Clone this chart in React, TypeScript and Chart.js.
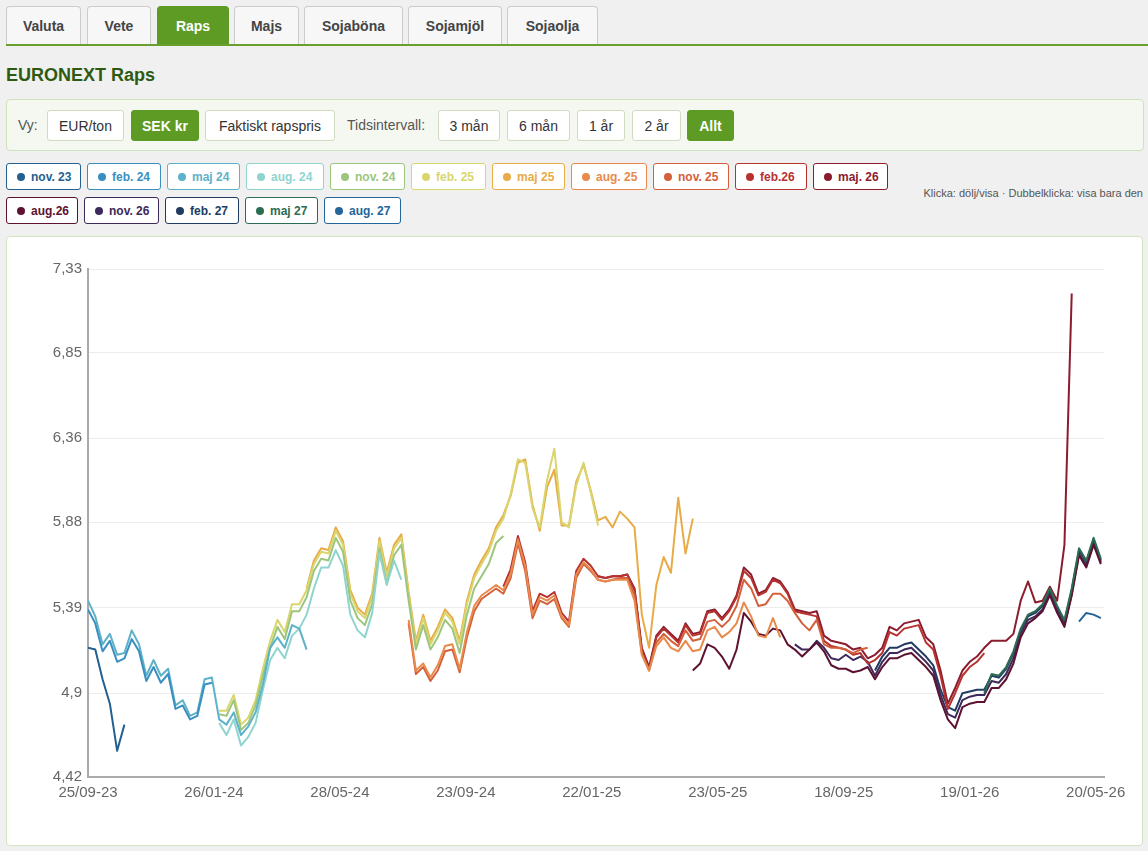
import React, { useEffect, useRef } from "react";
import { Chart, registerables } from "chart.js";
Chart.register(...registerables);

const FONT = '"Liberation Sans", Arial, Helvetica, sans-serif';

// x axis: days since 25/09-23 (ticks evenly spaced like the source's trading-day axis)
const xTickLabels = ["25/09-23", "26/01-24", "28/05-24", "23/09-24", "22/01-25", "23/05-25", "18/09-25", "19/01-26", "20/05-26"];
const xTickDays = [0, 121, 242, 363, 484, 605, 726, 847, 968];
const yTicks = [4.42, 4.9, 5.39, 5.88, 6.36, 6.85, 7.33];
const stepDays = 7;

const contractLabels = ["nov. 23", "feb. 24", "maj 24", "aug. 24", "nov. 24", "feb. 25", "maj 25", "aug. 25", "nov. 25", "feb.26", "maj. 26", "aug.26", "nov. 26", "feb. 27", "maj 27", "aug. 27"];
const contractColors = ["#23608f", "#3a8fc0", "#5db2c9", "#8fd4cf", "#9cc57e", "#d9d66e", "#e8ab47", "#e88a4b", "#d4603b", "#b7322f", "#8b1c2e", "#5e1231", "#3d2a5a", "#213c62", "#2c6c50", "#23669c"];
// first week index of each contract's data
const startWeeks = [0, 0, 0, 18, 18, 18, 30, 44, 44, 57, 70, 83, 97, 108, 123, 136];

const nov23 = [5.16, 5.15, 4.98, 4.84, 4.57, 4.72];
const feb24 = [5.38, 5.30, 5.14, 5.20, 5.08, 5.10, 5.21, 5.14, 4.97, 5.05, 4.96, 5.01, 4.81, 4.83, 4.75, 4.77, 4.95, 4.96];
const maj24 = [5.43, 5.34, 5.18, 5.24, 5.12, 5.13, 5.26, 5.18, 5.00, 5.09, 5.00, 5.04, 4.83, 4.86, 4.77, 4.79, 4.98, 4.99, 4.75, 4.72, 4.79, 4.66, 4.71, 4.79, 4.95, 5.16, 5.22, 5.16, 5.29, 5.27, 5.15];
const aug24 = [4.73, 4.66, 4.75, 4.60, 4.65, 4.73, 4.92, 5.09, 5.16, 5.10, 5.23, 5.27, 5.35, 5.50, 5.62, 5.62, 5.72, 5.63, 5.35, 5.26, 5.22, 5.36, 5.70, 5.52, 5.66, 5.55];
const nov24 = [4.78, 4.77, 4.86, 4.69, 4.73, 4.83, 5.00, 5.16, 5.28, 5.21, 5.37, 5.37, 5.45, 5.60, 5.67, 5.66, 5.79, 5.71, 5.43, 5.33, 5.29, 5.41, 5.73, 5.53, 5.69, 5.75, 5.43, 5.15, 5.29, 5.15, 5.22, 5.32, 5.27, 5.13, 5.35, 5.50, 5.57, 5.64, 5.76, 5.80];
const feb25 = [4.80, 4.80, 4.89, 4.72, 4.76, 4.86, 5.04, 5.20, 5.32, 5.25, 5.41, 5.41, 5.49, 5.64, 5.71, 5.70, 5.83, 5.75, 5.47, 5.37, 5.33, 5.45, 5.77, 5.57, 5.73, 5.79, 5.46, 5.18, 5.33, 5.18, 5.26, 5.36, 5.31, 5.18, 5.41, 5.56, 5.64, 5.71, 5.83, 5.90, 6.04, 6.24, 6.22, 5.96, 5.85, 6.12, 6.30, 5.88, 5.85, 6.09, 6.22, 6.05, 5.86];
const maj25 = [5.50, 5.66, 5.73, 5.72, 5.85, 5.77, 5.49, 5.39, 5.35, 5.47, 5.79, 5.59, 5.75, 5.81, 5.48, 5.20, 5.35, 5.20, 5.28, 5.38, 5.33, 5.20, 5.43, 5.58, 5.66, 5.73, 5.85, 5.92, 6.03, 6.22, 6.24, 5.98, 5.83, 6.08, 6.18, 5.86, 5.86, 6.11, 6.21, 6.06, 5.89, 5.91, 5.85, 5.94, 5.90, 5.85, 5.35, 5.16, 5.52, 5.68, 5.59, 6.02, 5.70, 5.90];
const aug25 = [5.32, 5.03, 5.07, 4.99, 5.06, 5.17, 5.18, 5.04, 5.25, 5.40, 5.46, 5.49, 5.52, 5.49, 5.58, 5.78, 5.63, 5.35, 5.45, 5.43, 5.46, 5.34, 5.29, 5.58, 5.65, 5.61, 5.55, 5.54, 5.55, 5.55, 5.55, 5.43, 5.12, 5.03, 5.17, 5.22, 5.16, 5.14, 5.20, 5.14, 5.15, 5.26, 5.28, 5.22, 5.25, 5.30, 5.42, 5.34, 5.23, 5.22, 5.33, 5.22];
const nov25 = [5.30, 5.01, 5.05, 4.97, 5.03, 5.14, 5.15, 5.02, 5.22, 5.37, 5.44, 5.47, 5.50, 5.47, 5.56, 5.76, 5.60, 5.33, 5.43, 5.41, 5.44, 5.33, 5.28, 5.56, 5.64, 5.60, 5.55, 5.54, 5.55, 5.56, 5.56, 5.46, 5.13, 5.03, 5.19, 5.24, 5.20, 5.17, 5.26, 5.20, 5.21, 5.31, 5.32, 5.28, 5.32, 5.40, 5.55, 5.50, 5.40, 5.41, 5.47, 5.47, 5.43, 5.36, 5.30, 5.26, 5.32, 5.18, 5.16, 5.16, 5.15, 5.13, 5.15, 5.16];
const feb26 = [5.51, 5.61, 5.80, 5.65, 5.37, 5.47, 5.45, 5.48, 5.36, 5.31, 5.60, 5.67, 5.63, 5.57, 5.56, 5.57, 5.57, 5.58, 5.49, 5.15, 5.04, 5.22, 5.27, 5.23, 5.19, 5.29, 5.23, 5.24, 5.36, 5.37, 5.32, 5.37, 5.45, 5.60, 5.56, 5.46, 5.48, 5.55, 5.53, 5.47, 5.37, 5.36, 5.35, 5.34, 5.20, 5.17, 5.16, 5.15, 5.12, 5.13, 5.07, 5.09, 5.13, 5.25, 5.23, 5.27, 5.28, 5.29, 5.19, 5.15, 5.00, 4.81, 4.90, 5.00, 5.05, 5.08, 5.13];
const maj26 = [5.57, 5.56, 5.57, 5.57, 5.58, 5.50, 5.16, 5.05, 5.23, 5.28, 5.24, 5.20, 5.30, 5.24, 5.25, 5.37, 5.38, 5.33, 5.38, 5.46, 5.62, 5.58, 5.47, 5.49, 5.56, 5.54, 5.48, 5.38, 5.37, 5.36, 5.37, 5.23, 5.20, 5.19, 5.18, 5.15, 5.16, 5.10, 5.12, 5.16, 5.28, 5.26, 5.30, 5.31, 5.32, 5.22, 5.18, 5.03, 4.84, 4.93, 5.03, 5.08, 5.11, 5.16, 5.20, 5.20, 5.20, 5.24, 5.43, 5.54, 5.42, 5.43, 5.51, 5.43, 5.75, 7.19];
const aug26 = [5.03, 5.07, 5.18, 5.16, 5.11, 5.04, 5.15, 5.36, 5.31, 5.24, 5.23, 5.27, 5.26, 5.18, 5.15, 5.11, 5.15, 5.19, 5.14, 5.06, 5.04, 5.04, 5.02, 5.03, 5.05, 4.98, 5.05, 5.10, 5.10, 5.12, 5.13, 5.09, 5.05, 5.00, 4.86, 4.75, 4.70, 4.82, 4.84, 4.85, 4.85, 4.93, 4.93, 4.98, 5.07, 5.22, 5.30, 5.33, 5.37, 5.46, 5.36, 5.28, 5.46, 5.69, 5.62, 5.75, 5.64];
const nov26 = [5.18, 5.15, 5.15, 5.20, 5.16, 5.10, 5.09, 5.12, 5.09, 5.11, 5.08, 5.00, 5.08, 5.13, 5.13, 5.15, 5.16, 5.12, 5.08, 5.03, 4.89, 4.78, 4.76, 4.86, 4.88, 4.89, 4.89, 4.97, 4.96, 5.01, 5.10, 5.24, 5.32, 5.34, 5.38, 5.47, 5.37, 5.29, 5.47, 5.70, 5.63, 5.76, 5.65];
const feb27 = [5.03, 5.11, 5.16, 5.16, 5.18, 5.19, 5.15, 5.11, 5.06, 4.92, 4.82, 4.80, 4.90, 4.91, 4.92, 4.92, 5.00, 4.99, 5.04, 5.13, 5.26, 5.34, 5.36, 5.40, 5.49, 5.39, 5.31, 5.49, 5.72, 5.65, 5.78, 5.66];
const maj27 = [4.90, 5.01, 5.00, 5.05, 5.14, 5.27, 5.35, 5.37, 5.41, 5.50, 5.40, 5.32, 5.50, 5.73, 5.66, 5.79, 5.67];
const aug27 = [5.31, 5.36, 5.35, 5.33];

const seriesValues = [nov23, feb24, maj24, aug24, nov24, feb25, maj25, aug25, nov25, feb26, maj26, aug26, nov26, feb27, maj27, aug27];

const tabs = ["Valuta", "Vete", "Raps", "Majs", "Sojaböna", "Sojamjöl", "Sojaolja"];
const tabLefts = [6, 87, 157, 234, 304, 408, 507];
const tabWidths = [75, 64, 72, 65, 99, 94, 91];
const legendWidths = [75, 74, 73, 78, 75, 75, 73, 76, 76, 72, 75, 72, 75, 74, 73, 77];

function Btn(props: { left: number; width: number; label: string; active?: boolean }) {
  const { left, width, label, active } = props;
  return (
    <div
      style={{
        position: "absolute",
        left,
        top: 10,
        width,
        height: 31,
        boxSizing: "border-box",
        border: "1px solid " + (active ? "#5e9b24" : "#cfdcc1"),
        background: active ? "#5e9b24" : "#fff",
        color: active ? "#fff" : "#333",
        fontWeight: active ? "bold" : "normal",
        borderRadius: 3,
        fontSize: 14,
        display: "flex",
        alignItems: "center",
        justifyContent: "center",
      }}
    >
      {label}
    </div>
  );
}

function LegendBtn(props: { label: string; color: string; width: number }) {
  const { label, color, width } = props;
  return (
    <div
      style={{
        width,
        height: 27,
        boxSizing: "border-box",
        border: "1px solid " + color,
        borderRadius: 3,
        background: "#fff",
        color,
        fontWeight: "bold",
        fontSize: 12,
        display: "flex",
        alignItems: "center",
        padding: "0 0 0 10px",
        whiteSpace: "nowrap",
        overflow: "hidden",
      }}
    >
      <span style={{ width: 8, height: 8, borderRadius: 4, background: color, marginRight: 6, display: "inline-block", flex: "none" }} />
      {label}
    </div>
  );
}

export default function App() {
  const canvasRef = useRef<HTMLCanvasElement | null>(null);

  useEffect(() => {
    document.body.style.margin = "0";
    document.body.style.background = "#f0f0f0";
    const canvas = canvasRef.current;
    if (!canvas) return;
    const datasets = seriesValues.map((vals, si) => ({
      label: contractLabels[si],
      data: vals.map((v, i) => ({ x: (startWeeks[si] + i) * stepDays, y: v })),
      borderColor: contractColors[si],
      backgroundColor: contractColors[si],
      borderWidth: 2,
      pointRadius: 0,
      pointHoverRadius: 0,
      tension: 0,
      fill: false,
      borderJoinStyle: "round" as const,
      order: si === 14 ? -1 : 0,
    }));
    const chart = new Chart(canvas, {
      type: "line",
      data: { datasets },
      options: {
        responsive: false,
        animation: false,
        events: [],
        layout: { padding: { top: 32, right: 38, bottom: 0, left: 0 } },
        plugins: { legend: { display: false }, tooltip: { enabled: false } },
        scales: {
          x: {
            type: "linear",
            min: 0,
            max: 976,
            grid: { display: false, drawTicks: false },
            border: { display: true, color: "#aaaaaa", width: 2 },
            ticks: {
              autoSkip: false,
              maxRotation: 0,
              padding: 7,
              color: "#666",
              font: { family: FONT, size: 15 },
              callback: (_v: any, i: number) => xTickLabels[i] ?? "",
            },
            afterBuildTicks: (s: any) => {
              s.ticks = xTickDays.map((v) => ({ value: v }));
            },
            afterFit: (s: any) => {
              s.height = 68;
            },
          },
          y: {
            type: "linear",
            min: 4.42,
            max: 7.33,
            grid: { color: "#ececec", drawTicks: false, lineWidth: 1 },
            border: { display: true, color: "#aaaaaa", width: 2 },
            ticks: {
              padding: 6,
              color: "#666",
              font: { family: FONT, size: 15 },
              callback: (v: any) => String(v).replace(".", ","),
            },
            afterBuildTicks: (s: any) => {
              s.ticks = yTicks.map((v) => ({ value: v }));
            },
            afterFit: (s: any) => {
              s.width = 81;
            },
          },
        },
      },
    });
    return () => chart.destroy();
  }, []);

  return (
    <div style={{ position: "relative", width: 1148, height: 851, fontFamily: FONT, color: "#333", overflow: "hidden" }}>
      {/* tabs */}
      {tabs.map((t, i) => {
        const active = t === "Raps";
        return (
          <div
            key={t}
            style={{
              position: "absolute",
              left: tabLefts[i],
              top: 6,
              width: tabWidths[i],
              height: 39,
              boxSizing: "border-box",
              border: "1px solid " + (active ? "#5e9b24" : "#cccccc"),
              borderBottom: "none",
              borderRadius: "4px 4px 0 0",
              background: active ? "#5e9b24" : "#f7f7f7",
              color: active ? "#fff" : "#444",
              fontWeight: "bold",
              fontSize: 14,
              display: "flex",
              alignItems: "center",
              justifyContent: "center",
            }}
          >
            {t}
          </div>
        );
      })}
      <div style={{ position: "absolute", left: 6, top: 44, width: 1142, height: 2, background: "#6a9f2d" }} />

      {/* title */}
      <div style={{ position: "absolute", left: 6, top: 64, fontSize: 18, lineHeight: "22px", fontWeight: "bold", color: "#2d5a10" }}>
        EURONEXT Raps
      </div>

      {/* controls */}
      <div
        style={{
          position: "absolute",
          left: 6,
          top: 99,
          width: 1138,
          height: 52,
          boxSizing: "border-box",
          border: "1px solid #cfe3bb",
          borderRadius: 4,
          background: "#f5f8f1",
          fontSize: 14,
        }}
      >
        <div style={{ position: "absolute", left: 11, top: 17, color: "#555" }}>Vy:</div>
        <Btn left={40} width={77} label="EUR/ton" />
        <Btn left={124} width={68} label="SEK kr" active />
        <Btn left={198} width={130} label="Faktiskt rapspris" />
        <div style={{ position: "absolute", left: 340, top: 17, color: "#555" }}>Tidsintervall:</div>
        <Btn left={431} width={62} label="3 mån" />
        <Btn left={500} width={63} label="6 mån" />
        <Btn left={570} width={48} label="1 år" />
        <Btn left={625} width={49} label="2 år" />
        <Btn left={680} width={47} label="Allt" active />
      </div>

      {/* legend */}
      <div style={{ position: "absolute", left: 6, top: 163, display: "flex", gap: 6 }}>
        {contractLabels.slice(0, 11).map((l, i) => (
          <LegendBtn key={l} label={l} color={contractColors[i]} width={legendWidths[i]} />
        ))}
      </div>
      <div style={{ position: "absolute", left: 6, top: 197, display: "flex", gap: 6 }}>
        {contractLabels.slice(11).map((l, i) => (
          <LegendBtn key={l} label={l} color={contractColors[i + 11]} width={legendWidths[i + 11]} />
        ))}
      </div>
      <div style={{ position: "absolute", right: 5, top: 187, fontSize: 11, color: "#555" }}>
        Klicka: dölj/visa · Dubbelklicka: visa bara den
      </div>

      {/* chart box */}
      <div
        style={{
          position: "absolute",
          left: 6,
          top: 236,
          width: 1137,
          height: 610,
          boxSizing: "border-box",
          border: "1px solid #d3e4c3",
          borderRadius: 4,
          background: "#fff",
        }}
      >
        <canvas ref={canvasRef} width={1135} height={608} style={{ display: "block", width: 1135, height: 608 }} />
      </div>
    </div>
  );
}
